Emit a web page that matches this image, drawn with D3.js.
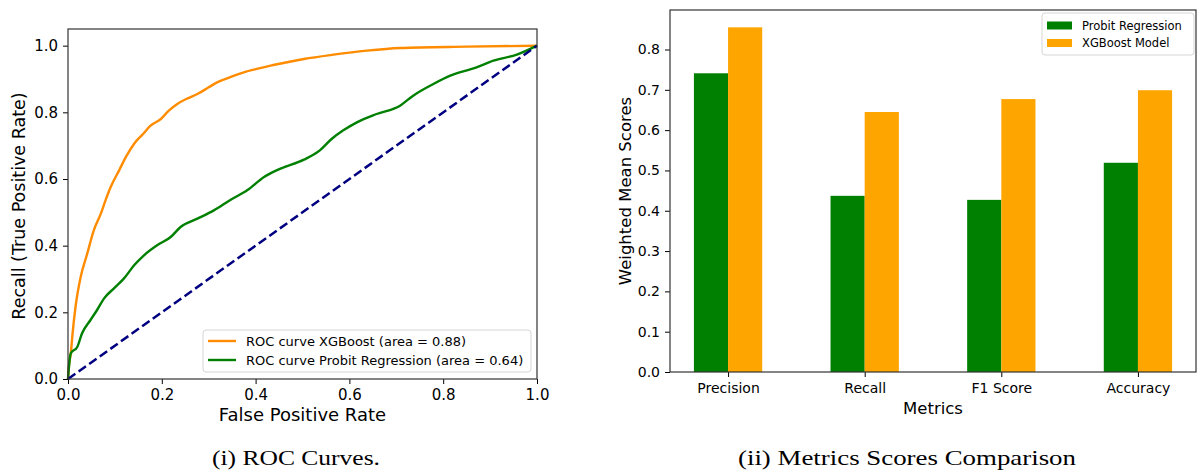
<!DOCTYPE html>
<html>
<head>
<meta charset="utf-8">
<script src="https://cdn.jsdelivr.net/npm/d3@7"></script>
<style>
  body { margin: 0; background: #fff; }
  svg text { font-family: "DejaVu Sans", sans-serif; fill: #000; }
  .caption { font-family: "Liberation Serif", "DejaVu Serif", serif; }
</style>
</head>
<body>
<svg id="fig" width="1198" height="470"></svg>
<script>
// ROC curve XGBoost
const xgbFpr = [0, 0.002, 0.006, 0.010, 0.016, 0.027, 0.041, 0.055, 0.070, 0.080, 0.091, 0.109, 0.125, 0.141, 0.160, 0.176, 0.198, 0.215, 0.233, 0.255, 0.276, 0.300, 0.318, 0.345, 0.375, 0.405, 0.432, 0.470, 0.503, 0.566, 0.637, 0.708, 0.850, 1.0];
const xgbTpr = [0, 0.040, 0.077, 0.140, 0.216, 0.306, 0.376, 0.446, 0.496, 0.536, 0.576, 0.626, 0.670, 0.706, 0.735, 0.760, 0.780, 0.805, 0.825, 0.842, 0.855, 0.875, 0.890, 0.905, 0.920, 0.931, 0.940, 0.951, 0.960, 0.973, 0.985, 0.993, 0.997, 1.0];

// ROC curve Probit Regression
const probitFpr = [0, 0.003, 0.006, 0.020, 0.030, 0.048, 0.062, 0.077, 0.098, 0.119, 0.141, 0.162, 0.190, 0.219, 0.240, 0.276, 0.311, 0.347, 0.382, 0.418, 0.453, 0.503, 0.537, 0.562, 0.587, 0.616, 0.658, 0.708, 0.736, 0.779, 0.815, 0.871, 0.907, 0.957, 1.0];
const probitTpr = [0, 0.050, 0.077, 0.097, 0.137, 0.177, 0.207, 0.242, 0.272, 0.301, 0.341, 0.371, 0.401, 0.426, 0.456, 0.481, 0.506, 0.538, 0.566, 0.606, 0.631, 0.658, 0.686, 0.720, 0.746, 0.770, 0.795, 0.820, 0.850, 0.885, 0.910, 0.935, 0.955, 0.973, 1.0];

const rocTicks = [0, 0.2, 0.4, 0.6, 0.8, 1.0];

// metrics bar chart
const metrics = ["Precision", "Recall", "F1 Score", "Accuracy"];
const probitScores = [0.741, 0.437, 0.427, 0.519];
const xgbScores = [0.855, 0.645, 0.677, 0.699];
const scoreTicks = [0, 0.1, 0.2, 0.3, 0.4, 0.5, 0.6, 0.7, 0.8];

const svg = d3.select("#fig");

// ---------- left panel: ROC ----------
const x1 = d3.scaleLinear().domain([0, 1]).range([68, 537]);
const y1 = d3.scaleLinear().domain([0, 1.05]).range([379, 29]);

const roc = svg.append("g");

const line = d3.line()
    .curve(d3.curveMonotoneX)
    .x(d => x1(d[0]))
    .y(d => y1(d[1]));

roc.append("path")
    .datum(xgbFpr.map((f, i) => [f, xgbTpr[i]]))
    .attr("d", line)
    .attr("fill", "none")
    .attr("stroke", "#ff8c00")
    .attr("stroke-width", 2.4);

roc.append("path")
    .datum(probitFpr.map((f, i) => [f, probitTpr[i]]))
    .attr("d", line)
    .attr("fill", "none")
    .attr("stroke", "#008000")
    .attr("stroke-width", 2.4);

roc.append("path")
    .datum([[0, 0], [1, 1]])
    .attr("d", line)
    .attr("fill", "none")
    .attr("stroke", "#000080")
    .attr("stroke-width", 2.5)
    .attr("stroke-dasharray", "9,4");

// axes
roc.append("g")
    .attr("transform", "translate(0,379)")
    .call(d3.axisBottom(x1).tickValues(rocTicks).tickFormat(d3.format(".1f")).tickSize(5).tickPadding(5).tickSizeOuter(0))
    .call(g => g.select(".domain").remove())
    .selectAll("text").style("font-size", "15px");

roc.append("g")
    .attr("transform", "translate(68,0)")
    .call(d3.axisLeft(y1).tickValues(rocTicks).tickFormat(d3.format(".1f")).tickSize(5).tickPadding(5).tickSizeOuter(0))
    .call(g => g.select(".domain").remove())
    .selectAll("text").style("font-size", "15px");

roc.append("rect")
    .attr("x", x1(0)).attr("y", y1(1.05))
    .attr("width", x1(1) - x1(0)).attr("height", y1(0) - y1(1.05))
    .attr("fill", "none").attr("stroke", "#333").attr("stroke-width", 1.2);

roc.append("text")
    .attr("x", (x1(0) + x1(1)) / 2).attr("y", 421)
    .attr("text-anchor", "middle")
    .style("font-size", "18px")
    .text("False Positive Rate");

roc.append("text")
    .attr("transform", "translate(19," + ((y1(0) + y1(1.05)) / 2 + 2) + ") rotate(-90)")
    .attr("text-anchor", "middle")
    .attr("dominant-baseline", "central")
    .style("font-size", "17.5px")
    .text("Recall (True Positive Rate)");

// legend
const rocLegend = roc.append("g").attr("transform", "translate(203,330)");
rocLegend.append("rect")
    .attr("width", 328).attr("height", 42).attr("rx", 3)
    .attr("fill", "#fff").attr("fill-opacity", 0.8)
    .attr("stroke", "#d5d5d5");
[["ROC curve XGBoost (area = 0.88)", "#ff8c00", 11],
 ["ROC curve Probit Regression (area = 0.64)", "#008000", 30]].forEach(([label, col, ly]) => {
    rocLegend.append("line")
        .attr("x1", 5).attr("x2", 33).attr("y1", ly).attr("y2", ly)
        .attr("stroke", col).attr("stroke-width", 2.4);
    rocLegend.append("text")
        .attr("x", 43).attr("y", ly)
        .attr("dominant-baseline", "central")
        .style("font-size", "13px")
        .text(label);
});

// ---------- right panel: bars ----------
const x2 = d3.scaleLinear().domain([-0.425, 3.425]).range([670, 1196]);
const y2 = d3.scaleLinear().domain([0, 0.898]).range([372, 10]);
const barW = 0.25;

const bars = svg.append("g");

bars.selectAll(".probit")
    .data(probitScores)
    .enter().append("rect")
    .attr("class", "probit")
    .attr("x", (d, i) => x2(i - barW))
    .attr("width", x2(barW) - x2(0))
    .attr("y", d => y2(d))
    .attr("height", d => y2(0) - y2(d))
    .attr("fill", "#008000");

bars.selectAll(".xgb")
    .data(xgbScores)
    .enter().append("rect")
    .attr("class", "xgb")
    .attr("x", (d, i) => x2(i))
    .attr("width", x2(barW) - x2(0))
    .attr("y", d => y2(d))
    .attr("height", d => y2(0) - y2(d))
    .attr("fill", "#ffa500");

bars.append("g")
    .attr("transform", "translate(0,372)")
    .call(d3.axisBottom(x2).tickValues(d3.range(metrics.length)).tickFormat(i => metrics[i]).tickSize(5).tickPadding(6).tickSizeOuter(0))
    .call(g => g.select(".domain").remove())
    .selectAll("text").style("font-size", "14px");

bars.append("g")
    .attr("transform", "translate(670,0)")
    .call(d3.axisLeft(y2).tickValues(scoreTicks).tickFormat(d3.format(".1f")).tickSize(5).tickPadding(5).tickSizeOuter(0))
    .call(g => g.select(".domain").remove())
    .selectAll("text").style("font-size", "14px");

bars.append("rect")
    .attr("x", x2(-0.425)).attr("y", y2(0.898))
    .attr("width", x2(3.425) - x2(-0.425)).attr("height", y2(0) - y2(0.898))
    .attr("fill", "none").attr("stroke", "#333").attr("stroke-width", 1.2);

bars.append("text")
    .attr("x", (x2(-0.425) + x2(3.425)) / 2).attr("y", 414)
    .attr("text-anchor", "middle")
    .style("font-size", "16.5px")
    .text("Metrics");

bars.append("text")
    .attr("transform", "translate(625," + ((y2(0) + y2(0.898)) / 2) + ") rotate(-90)")
    .attr("text-anchor", "middle")
    .attr("dominant-baseline", "central")
    .style("font-size", "16.5px")
    .text("Weighted Mean Scores");

const barLegend = bars.append("g").attr("transform", "translate(1042,13)");
barLegend.append("rect")
    .attr("width", 152).attr("height", 42).attr("rx", 3)
    .attr("fill", "#fff").attr("fill-opacity", 0.8)
    .attr("stroke", "#d5d5d5");
[["Probit Regression", "#008000", 12.5],
 ["XGBoost Model", "#ffa500", 30]].forEach(([label, col, ly]) => {
    barLegend.append("rect")
        .attr("x", 5).attr("y", ly - 4).attr("width", 25).attr("height", 8)
        .attr("fill", col);
    barLegend.append("text")
        .attr("x", 40).attr("y", ly)
        .attr("dominant-baseline", "central")
        .style("font-size", "11.5px")
        .text(label);
});

// ---------- captions ----------
svg.append("text")
    .attr("class", "caption")
    .attr("x", 296).attr("y", 465)
    .attr("text-anchor", "middle")
    .attr("textLength", 168)
    .attr("lengthAdjust", "spacingAndGlyphs")
    .style("font-size", "22px")
    .text("(i) ROC Curves.");

svg.append("text")
    .attr("class", "caption")
    .attr("x", 907).attr("y", 465)
    .attr("text-anchor", "middle")
    .attr("textLength", 338)
    .attr("lengthAdjust", "spacingAndGlyphs")
    .style("font-size", "22px")
    .text("(ii) Metrics Scores Comparison");
</script>
</body>
</html>
